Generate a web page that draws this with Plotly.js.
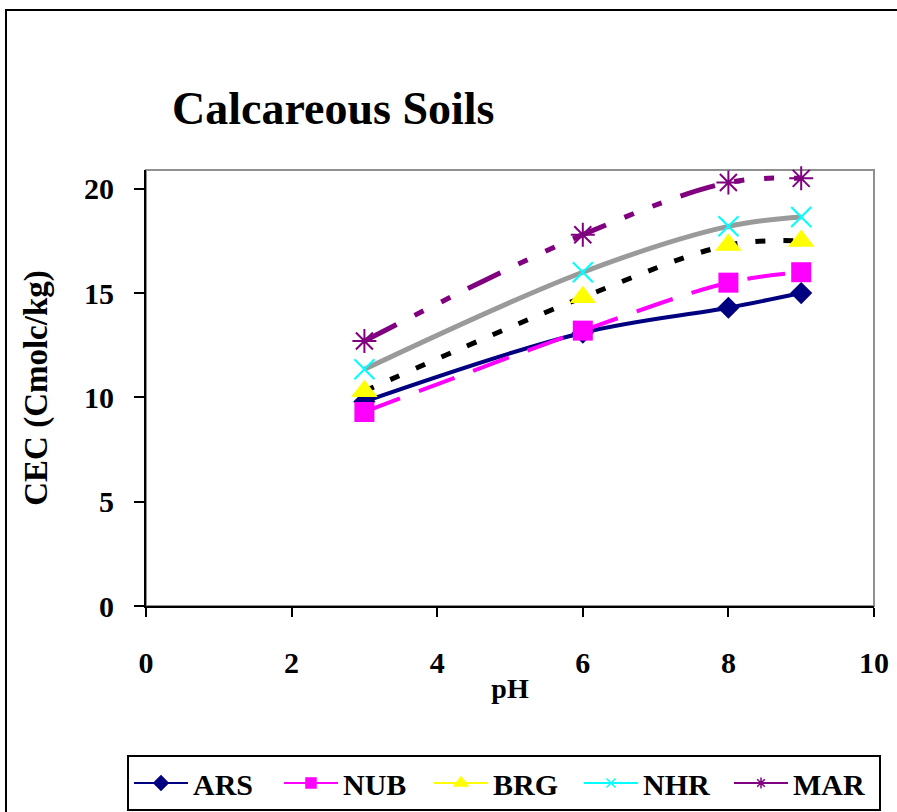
<!DOCTYPE html>
<html>
<head>
<meta charset="utf-8">
<script src="https://cdn.plot.ly/plotly-3.0.1.min.js"></script>
<style>
  html, body { margin: 0; padding: 0; background: #fff; }
  #chart { width: 897px; height: 812px; }
</style>
</head>
<body>
<div id="chart"></div>
<script>
// pH values at which CEC was measured
const pH = [3, 6, 8, 9];

// CEC (Cmolc/kg) for each calcareous soil
const ARS = [9.8, 13.1, 14.3, 15.0];
const NUB = [9.3, 13.2, 15.5, 16.0];
const BRG = [10.3, 14.8, 17.3, 17.5];
const NHR = [11.35, 16.0, 18.2, 18.65];
const MAR = [12.7, 17.8, 20.3, 20.5];

const seriesNames = ['ARS', 'NUB', 'BRG', 'NHR', 'MAR'];
const xTicks = [0, 2, 4, 6, 8, 10];
const yTicks = [0, 5, 10, 15, 20];

const serif = 'Liberation Serif, Times New Roman, serif';

// Plotted series (smoothed lines, each with its own stroke style)
const styles = [
  { y: ARS, line: { color: '#000080', width: 4 }, marker: { symbol: 'diamond', size: 17, color: '#000080' } },
  { y: NUB, line: { color: '#ff00ff', width: 4, dash: '38px,20px' }, marker: { symbol: 'square', size: 20, color: '#ff00ff' } },
  { y: BRG, line: { color: '#000000', width: 5, dash: '10px,18px' }, marker: { symbol: 'triangle-up', size: 23, color: '#ffff00' } },
  { y: NHR, line: { color: '#9a9a9a', width: 5 }, marker: { symbol: 'x-thin-open', size: 20, color: '#00ffff', line: { width: 2, color: '#00ffff' } } },
  { y: MAR, line: { color: '#800080', width: 5, dash: '36px,20px,10px,20px,10px,20px' }, marker: { symbol: 'asterisk-open', size: 20, color: '#800080', line: { width: 2, color: '#800080' } } }
];

const traces = styles.map((s, i) => ({
  type: 'scatter',
  mode: 'lines+markers',
  x: pH,
  y: s.y,
  name: seriesNames[i],
  showlegend: false,
  line: Object.assign({ shape: 'spline', smoothing: 1 }, s.line),
  marker: s.marker,
  cliponaxis: false
}));

// Legend keys: thin solid lines in each series' marker colour
const legendColors = ['#000080', '#ff00ff', '#ffff00', '#00ffff', '#800080'];
const legendSymbols = ['diamond', 'square', 'triangle-up', 'x-thin-open', 'asterisk-open'];
const legendSizes = [11, 10, 12, 9, 9];
seriesNames.forEach((n, i) => {
  traces.push({
    type: 'scatter',
    mode: 'lines+markers',
    x: [null],
    y: [null],
    name: n,
    showlegend: true,
    line: { color: legendColors[i], width: 2 },
    marker: { symbol: legendSymbols[i], size: legendSizes[i], color: legendColors[i], line: { width: 1.5, color: legendColors[i] } }
  });
});

const layout = {
  width: 897,
  height: 812,
  paper_bgcolor: '#ffffff',
  plot_bgcolor: '#ffffff',
  margin: { l: 146, r: 23, t: 170, b: 206, pad: 0, autoexpand: false },
  showlegend: true,
  title: {
    text: 'Calcareous Soils',
    font: { family: serif, size: 46, color: '#000', weight: 'bold' },
    x: 172 / 897, xanchor: 'left', xref: 'container',
    y: 1 - 108 / 812, yanchor: 'middle', yref: 'container'
  },
  xaxis: {
    range: [0, 10],
    tickvals: xTicks,
    ticktext: xTicks.map(String),
    showgrid: false,
    zeroline: false,
    showline: true,
    linecolor: '#000',
    linewidth: 2,
    ticks: 'outside',
    ticklen: 9,
    tickwidth: 2,
    tickcolor: '#000',
    ticklabelstandoff: 20,
    tickfont: { family: serif, size: 30, color: '#000', weight: 'bold' },
    title: { text: 'pH', font: { family: serif, size: 28, color: '#000', weight: 'bold' }, standoff: 0 },
    automargin: false,
    fixedrange: true
  },
  yaxis: {
    range: [0, 20.9],
    tickvals: yTicks,
    ticktext: yTicks.map(String),
    showgrid: false,
    zeroline: false,
    showline: true,
    linecolor: '#000',
    linewidth: 2,
    ticks: 'outside',
    ticklen: 10,
    tickwidth: 2,
    tickcolor: '#000',
    ticklabelstandoff: 14,
    tickfont: { family: serif, size: 30, color: '#000', weight: 'bold' },
    title: { text: 'CEC (Cmolc/kg)', font: { family: serif, size: 33, color: '#000', weight: 'bold' }, standoff: 26 },
    automargin: false,
    fixedrange: true
  },
  legend: {
    orientation: 'h',
    x: (127 - 146) / 728,
    xanchor: 'left',
    y: (606 - 755) / 436,
    yanchor: 'top',
    bordercolor: '#000',
    borderwidth: 2,
    bgcolor: '#fff',
    font: { family: serif, size: 30, color: '#000', weight: 'bold' },
    itemwidth: 54,
    entrywidth: 81,
    entrywidthmode: 'pixels',
    traceorder: 'normal'
  },
  shapes: [
    // grey frame of the plot area
    { type: 'rect', xref: 'paper', yref: 'paper', x0: 0, x1: 1, y0: 0, y1: 1, line: { color: '#909090', width: 2 }, layer: 'below' },
    // outer chart border
    { type: 'rect', xref: 'paper', yref: 'paper', x0: (6 - 146) / 728, x1: (905 - 146) / 728, y0: (606 - 830) / 436, y1: (606 - 10) / 436, line: { color: '#000', width: 2 }, layer: 'below' }
  ]
};

Plotly.newPlot('chart', traces, layout, { displayModeBar: false, staticPlot: true });
</script>
</body>
</html>
